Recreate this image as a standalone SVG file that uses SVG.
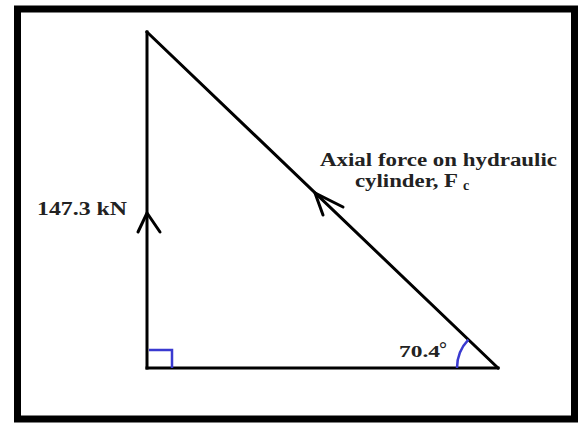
<svg xmlns="http://www.w3.org/2000/svg" width="578" height="423" viewBox="0 0 578 423">
<style>
.frame{fill:#fff;stroke:#000;stroke-width:7}
.edge{fill:none;stroke:#000;stroke-width:3;stroke-linecap:square}
.head{fill:none;stroke:#000;stroke-width:3;stroke-linejoin:miter;stroke-linecap:round}
.mark{fill:none;stroke:#3a3ad0;stroke-width:2.5}
.lbl{font-weight:bold;fill:#222}
</style>
<rect width="578" height="423" fill="#fff"/>
<rect class="frame" x="17.5" y="9" width="557" height="410"/>
<g id="connectors">
<line class="edge" x1="147" y1="32" x2="147" y2="368"/>
<line class="edge" x1="147" y1="368" x2="498" y2="368"/>
<line class="edge" x1="498" y1="368" x2="147" y2="32"/>
<polyline class="head" points="138,232 147,213 160,232"/>
<polyline class="head" points="343,207 315,193 323,215"/>
</g>
<g id="right-angle"><polyline class="mark" points="149,350 172,350 172,368"/></g>
<g id="angle-arc"><path class="mark" d="M457,368 A41,41 0 0 1 468.4,339.7"/></g>
<g font-family="Liberation Serif, Times New Roman, serif">
<g id="label-vertical"><text class="lbl" x="37" y="215" font-size="18" textLength="90" lengthAdjust="spacingAndGlyphs">147.3 kN</text></g>
<g id="label-hyp">
<text class="lbl" x="320" y="166" font-size="18" textLength="237" lengthAdjust="spacingAndGlyphs">Axial force on hydraulic</text>
<text class="lbl" x="355" y="187" font-size="18" textLength="103" lengthAdjust="spacingAndGlyphs">cylinder, F</text>
<text class="lbl" x="463" y="190" font-size="14">c</text>
</g>
<g id="label-angle"><text class="lbl" x="399" y="357" font-size="17" textLength="41" lengthAdjust="spacingAndGlyphs">70.4</text><text class="lbl" x="439" y="356" font-size="20">°</text></g>
</g>
</svg>
